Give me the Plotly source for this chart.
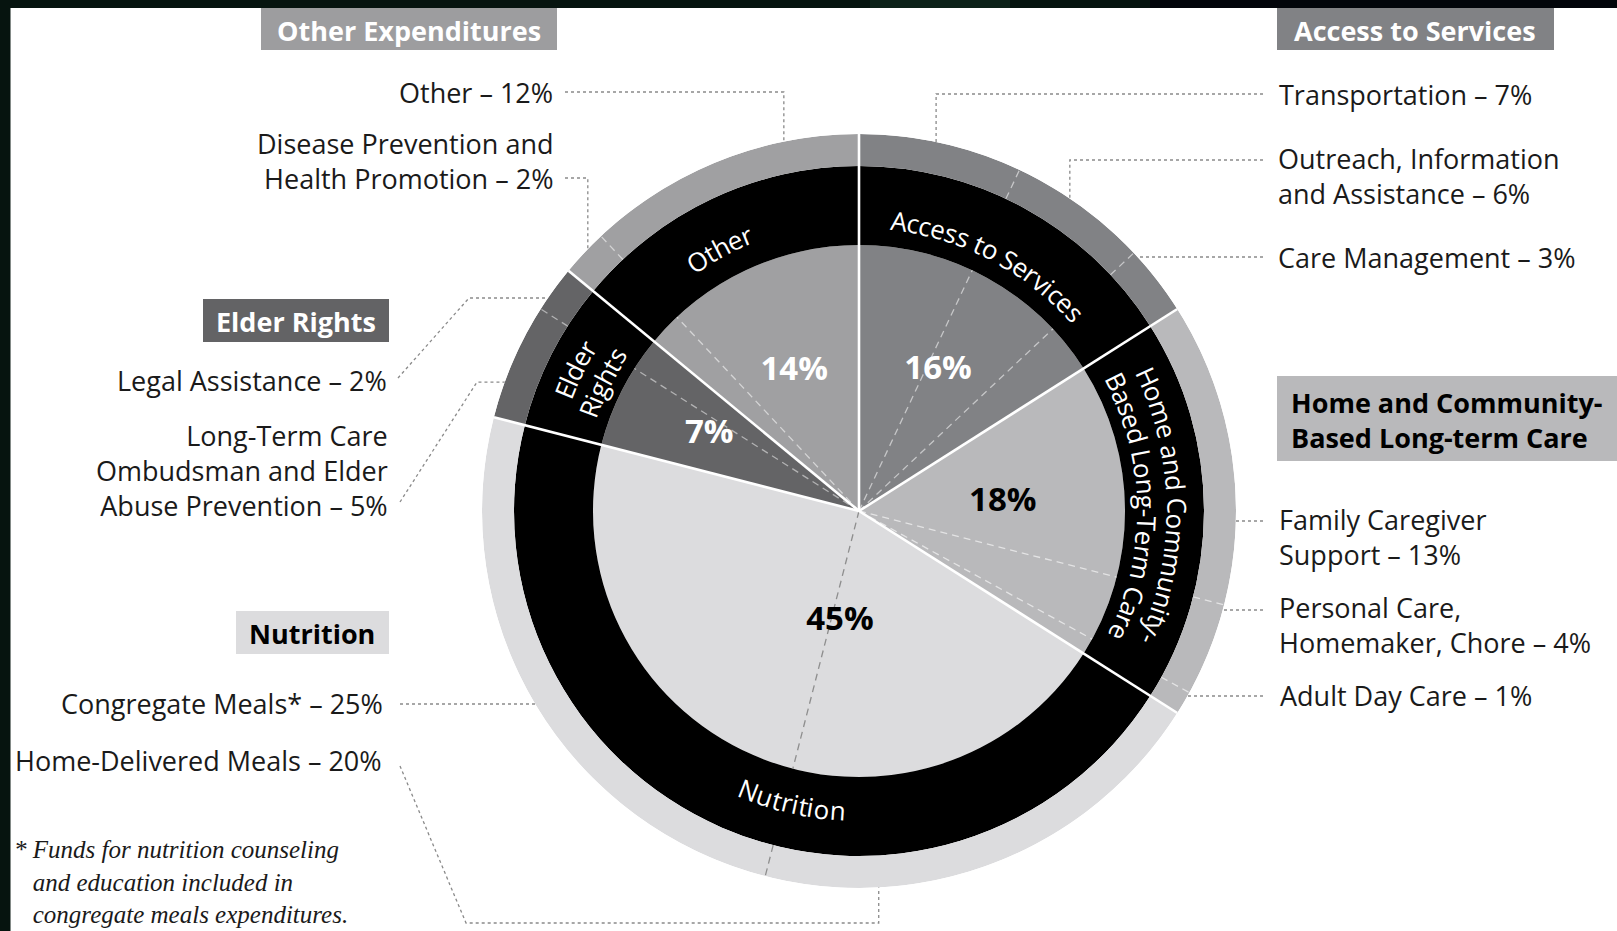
import math
import plotly.graph_objects as go

W, H = 1617, 931

# ---------------- data ----------------
categories = ["Access to Services", "Home and Community-Based Long-Term Care",
              "Nutrition", "Elder Rights", "Other"]
category_pct = [16, 18, 45, 7, 14]

sub_names = ["Transportation", "Outreach, Information and Assistance", "Care Management",
             "Family Caregiver Support", "Personal Care, Homemaker, Chore", "Adult Day Care",
             "Home-Delivered Meals", "Congregate Meals*",
             "Long-Term Care Ombudsman and Elder Abuse Prevention", "Legal Assistance",
             "Disease Prevention and Health Promotion", "Other"]
sub_pct = [7, 6, 3, 13, 4, 1, 20, 25, 5, 2, 2, 12]
sub_parent = [0, 0, 0, 1, 1, 1, 2, 2, 3, 3, 4, 4]

header_lines = [["Access to Services"], ["Home and Community-", "Based Long-term Care"],
                ["Nutrition"], ["Elder Rights"], ["Other Expenditures"]]
ring_lines = [["Access to Services"], ["Home and Community-", "Based Long-Term Care"],
              ["Nutrition"], ["Elder", "Rights"], ["Other"]]
sub_label_lines = [["Transportation"], ["Outreach, Information", "and Assistance"],
                   ["Care Management"], ["Family Caregiver", "Support"],
                   ["Personal Care,", "Homemaker, Chore"], ["Adult Day Care"],
                   ["Home-Delivered Meals"], ["Congregate Meals*"],
                   ["Long-Term Care", "Ombudsman and Elder", "Abuse Prevention"],
                   ["Legal Assistance"], ["Disease Prevention and", "Health Promotion"], ["Other"]]
footnote_lines = ["* Funds for nutrition counseling", "and education included in",
                  "congregate meals expenditures."]

# ---------------- styles / layout ----------------
FONT = "Open Sans"
SERIF = "Liberation Serif"
cat_colors = ["#818285", "#b9b9bb", "#dcdcde", "#646466", "#a0a0a2"]
pct_colors = ["white", "black", "black", "white", "white"]
dash_colors = ["rgba(255,255,255,0.55)", "rgba(255,255,255,0.6)", "#8e8e8e",
               "rgba(255,255,255,0.5)", "rgba(255,255,255,0.55)"]
header_fill = ["#818285", "#b9b9bb", "#dcdcde", "#636365", "#9d9d9f"]
header_font_color = ["white", "black", "black", "white", "white"]
# (x0, y0, x1, y1, text anchor, text x, text block center y) in pixels
header_box = [(1277, 8, 1554, 50, "center", 1415, 30),
              (1277, 376, 1617, 461, "left", 1289, 420),
              (236, 611, 389, 654, "center", 312, 633),
              (203, 299, 389, 342, "center", 296, 321),
              (261, 8, 557, 50, "center", 409, 30)]
# ring label: (center angle, [radius per line], clockwise?)
ring_pos = [(27.5, [293], True), (89.0, [318, 288], True), (193.0, [300], False),
            (296.5, [318, 288], True), (332.0, [298], True)]
# percentage label positions (angle, radius)
pct_pos = [(29.4, 161), (86.8, 144), (189.8, 112), (296.9, 168), (335.1, 154)]
# sub labels (side, x, text block center y)
sub_label_pos = [("R", 1277, 94), ("R", 1276, 176), ("R", 1276, 257),
                 ("R", 1277, 537), ("R", 1277, 625), ("R", 1278, 695),
                 ("L", 384, 760), ("L", 385, 703), ("L", 390, 470),
                 ("L", 389, 380), ("L", 555, 161), ("L", 555, 92)]
leaders = [dict(kind="hv", x0=1263, y0=94, ang=11.8),
           dict(kind="hv", x0=1263, y0=160, ang=34),
           dict(kind="h", x0=1263, y0=257),
           dict(kind="h", x0=1263, y0=521),
           dict(kind="h", x0=1263, y0=610),
           dict(kind="h", x0=1263, y0=696),
           dict(kind="dhv", x0=400, y0=766, xe=466, ye=923, ang=177),
           dict(kind="h", x0=400, y0=704),
           dict(kind="dh", x0=400, y0=502, xe=477, ang=290),
           dict(kind="dh", x0=398, y0=378, xe=469, ang=304.4),
           dict(kind="hv", x0=565, y0=178, ang=314),
           dict(kind="hv", x0=565, y0=92, ang=348.5)]

CX, CY = 859, 511
R_IN, R_MID, R_OUT = 266, 345, 377
LABEL_SIZE = 27
RING_SIZE = 26

# Open Sans advance widths (units per em 2048)
OSW = {' ': 532, '-': 659, ',': 502, '.': 545, 'A': 1296, 'B': 1327, 'C': 1292, 'D': 1493,
       'E': 1139, 'H': 1511, 'L': 1063, 'N': 1544, 'O': 1595, 'R': 1266, 'S': 1104, 'T': 1129,
       'a': 1139, 'b': 1255, 'c': 975, 'd': 1255, 'e': 1149, 'g': 1122, 'h': 1264, 'i': 518,
       'l': 518, 'm': 1924, 'n': 1264, 'o': 1237, 'r': 836, 's': 977, 't': 723, 'u': 1264,
       'v': 1026, 'y': 1028}


def px(x, y):
    return x / W, 1 - y / H


def ring_point(ang, r):
    t = math.radians(ang)
    return CX + r * math.sin(t), CY - r * math.cos(t)


# angles from data
deg_per = 360.0 / sum(category_pct)
cat_start, acc = [], 0
for p in category_pct:
    cat_start.append(acc * deg_per)
    acc += p
cat_span = [p * deg_per for p in category_pct]
cat_mid = [s + w / 2 for s, w in zip(cat_start, cat_span)]

sub_start, acc = [], 0
for p in sub_pct:
    sub_start.append(acc * deg_per)
    acc += p

fig = go.Figure()

# pie: inner wedges, black band, outer ring
for base, thick, colors in [(0, R_IN, cat_colors), (R_IN, R_MID - R_IN, ["#000000"] * 5),
                            (R_MID, R_OUT - R_MID, cat_colors)]:
    fig.add_trace(go.Barpolar(r=[thick] * len(categories), base=[base] * len(categories),
                              theta=cat_mid, width=cat_span,
                              marker=dict(color=colors, line=dict(width=0)),
                              hoverinfo="skip", showlegend=False))

# dashed sub-category boundaries (inside pie and in outer ring)
for i in range(1, len(sub_pct)):
    if sub_parent[i] != sub_parent[i - 1]:
        continue
    a = sub_start[i]
    col = dash_colors[sub_parent[i]]
    for r0, r1 in [(0, R_IN), (R_MID, R_OUT)]:
        fig.add_trace(go.Scatterpolar(r=[r0, r1], theta=[a, a], mode="lines",
                                      line=dict(color=col, width=1.3, dash="7px,5px"),
                                      hoverinfo="skip", showlegend=False))

# white separators between categories
for a in cat_start:
    fig.add_trace(go.Scatterpolar(r=[0, R_OUT], theta=[a, a], mode="lines",
                                  line=dict(color="white", width=2.6),
                                  hoverinfo="skip", showlegend=False))

# percentages
fig.add_trace(go.Scatterpolar(r=[p[1] for p in pct_pos], theta=[p[0] for p in pct_pos],
                              mode="text", text=[f"{v}%" for v in category_pct],
                              textfont=dict(family=FONT, size=33, color=pct_colors, weight="bold"),
                              hoverinfo="skip", showlegend=False))

shapes = []
annotations = []

# background panel
shapes.append(dict(type="rect", xref="paper", yref="paper", x0=0, x1=1, y0=0, y1=1,
                   fillcolor="#06140f", line=dict(width=0), layer="below"))
shapes.append(dict(type="rect", xref="paper", yref="paper", x0=1150 / W, x1=1, y0=1 - 8 / H, y1=1,
                   fillcolor="#02050a", line=dict(width=0), layer="below"))
shapes.append(dict(type="rect", xref="paper", yref="paper", x0=870 / W, x1=1010 / W, y0=1 - 8 / H, y1=1,
                   fillcolor="#0c2219", line=dict(width=0), layer="below"))
shapes.append(dict(type="rect", xref="paper", yref="paper", x0=10.5 / W, x1=1, y0=0, y1=1 - 8 / H,
                   fillcolor="white", line=dict(width=0), layer="below"))

# header boxes
for i, (x0, y0, x1, y1, anc, tx, ty) in enumerate(header_box):
    shapes.append(dict(type="rect", xref="paper", yref="paper", x0=x0 / W, x1=x1 / W,
                       y0=1 - y1 / H, y1=1 - y0 / H, fillcolor=header_fill[i],
                       line=dict(width=0), layer="below"))
    ax, ay = px(tx, ty)
    annotations.append(dict(x=ax, y=ay, xref="paper", yref="paper",
                            text="<br>".join(header_lines[i]), align=anc,
                            showarrow=False, xanchor=anc, yanchor="middle",
                            font=dict(family=FONT, size=27, color=header_font_color[i],
                                      weight="bold")))

# sub labels
for i, (side, x, y) in enumerate(sub_label_pos):
    lines = list(sub_label_lines[i])
    lines[-1] = lines[-1] + f" – {sub_pct[i]}%"
    ax, ay = px(x, y)
    al = "left" if side == "R" else "right"
    annotations.append(dict(x=ax, y=ay, xref="paper", yref="paper", text="<br>".join(lines),
                            showarrow=False, xanchor=al, align=al, yanchor="middle",
                            font=dict(family=FONT, size=LABEL_SIZE, color="#1a1a1a")))

# leader lines
for ld in leaders:
    k = ld["kind"]
    x0, y0 = ld["x0"], ld["y0"]
    if k == "h":
        sgn = 1 if x0 > CX else -1
        xr = CX + sgn * math.sqrt(R_OUT ** 2 - (y0 - CY) ** 2)
        pts = [(x0, y0), (xr, y0)]
    elif k == "hv":
        xr, yr = ring_point(ld["ang"], R_OUT)
        pts = [(x0, y0), (xr, y0), (xr, yr)]
    elif k == "dh":
        xr, yr = ring_point(ld["ang"], R_OUT)
        pts = [(x0, y0), (ld["xe"], yr), (xr, yr)]
    else:
        xr, yr = ring_point(ld["ang"], R_OUT)
        pts = [(x0, y0), (ld["xe"], ld["ye"]), (xr, ld["ye"]), (xr, yr)]
    path = "M " + " L ".join(f"{px(a, b)[0]:.5f},{px(a, b)[1]:.5f}" for a, b in pts)
    shapes.append(dict(type="path", xref="paper", yref="paper", path=path,
                       line=dict(color="#8a8a8a", width=1.3, dash="dot")))


# curved ring labels (one annotation per character)
def arc_text(s, theta_c, r, cw, size):
    widths = [OSW.get(c, 1100) / 2048 * size for c in s]
    pos = -sum(widths) / 2
    out = []
    for ch, w in zip(s, widths):
        mid = pos + w / 2
        pos += w
        if ch == " ":
            continue
        d = math.degrees(mid / r)
        th = theta_c + d if cw else theta_c - d
        x, y = ring_point(th, r)
        ang = th if cw else th - 180
        ang = (ang + 180) % 360 - 180
        ax, ay = px(x, y)
        out.append(dict(x=ax, y=ay, xref="paper", yref="paper", text=ch, showarrow=False,
                        textangle=ang, xanchor="center", yanchor="middle",
                        font=dict(family=FONT, size=size, color="white")))
    return out


for i, lines in enumerate(ring_lines):
    tc, radii, cw = ring_pos[i]
    for line, r in zip(lines, radii):
        annotations.extend(arc_text(line, tc, r, cw, RING_SIZE))

# footnote (hanging indent after the asterisk)
foot = [footnote_lines[0]] + ["\u00a0\u00a0\u00a0" + ln for ln in footnote_lines[1:]]
ax, ay = px(12, 930)
annotations.append(dict(x=ax, y=ay, xref="paper", yref="paper",
                        text="<i>" + "<br>".join(foot) + "</i>", align="left",
                        showarrow=False, xanchor="left", yanchor="bottom",
                        font=dict(family=SERIF, size=25, color="#1a1a1a")))

fig.update_layout(
    width=W, height=H, autosize=False,
    margin=dict(l=0, r=0, t=0, b=0, pad=0),
    paper_bgcolor="#06140f", plot_bgcolor="rgba(0,0,0,0)",
    showlegend=False,
    polar=dict(
        domain=dict(x=[(CX - R_OUT) / W, (CX + R_OUT) / W],
                    y=[1 - (CY + R_OUT) / H, 1 - (CY - R_OUT) / H]),
        bgcolor="rgba(0,0,0,0)", bargap=0, hole=0,
        radialaxis=dict(range=[0, R_OUT], visible=False, showgrid=False),
        angularaxis=dict(rotation=90, direction="clockwise", visible=False, showgrid=False),
    ),
    shapes=shapes,
    annotations=annotations,
)

fig.write_html("out.html", post_script="document.body.style.margin='0';")
